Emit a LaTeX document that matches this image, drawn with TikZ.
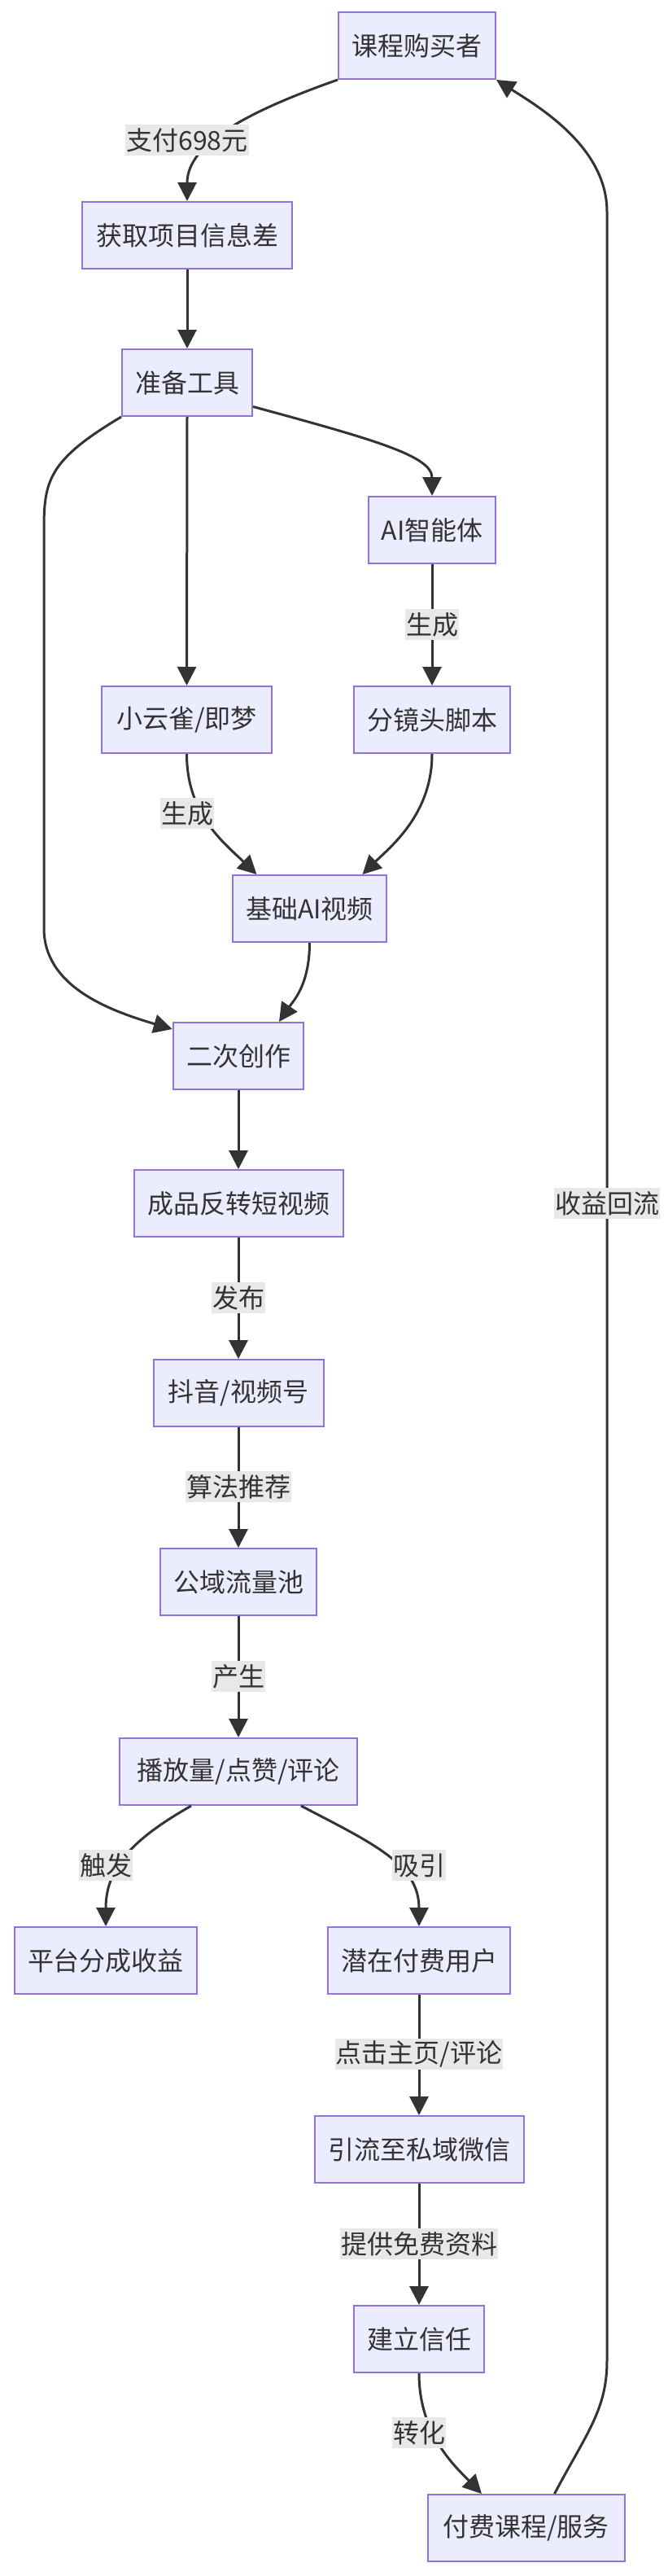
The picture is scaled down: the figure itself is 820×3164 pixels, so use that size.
\documentclass[tikz,border=0pt]{standalone}
\usepackage{fontspec}
\newfontfamily\cjk{Noto Sans CJK SC}
\usetikzlibrary{arrows.meta}
\definecolor{nodefill}{HTML}{ECECFF}
\definecolor{nodeline}{HTML}{9370DB}
\definecolor{edgecol}{HTML}{333333}
\definecolor{lblbg}{HTML}{E8E8E8}
\definecolor{txt}{HTML}{333333}
\tikzset{
  box/.style={draw=nodeline, fill=nodefill, line width=2pt, minimum height=82pt,
    inner sep=0pt, text=txt, font=\cjk\fontsize{32}{38}\selectfont},
  lbl/.style={fill=lblbg, inner xsep=1pt, inner ysep=0pt, minimum height=38pt,
    text=txt, font=\cjk\fontsize{32}{38}\selectfont},
  conn/.style={draw=edgecol, line width=3pt, -{Triangle[length=23pt,width=23pt]}}
}
\begin{document}
\begin{tikzpicture}[x=1pt,y=-1pt]
\fill[white] (0,0) rectangle (820,3164);
\useasboundingbox (0,0) rectangle (820,3164);

% nodes
\node[box, minimum width=193pt]   (A) at (512.5,56)   {课程购买者};
\node[box, minimum width=258pt]   (B) at (230,289)    {获取项目信息差};
\node[box, minimum width=160pt]   (C) at (230,470)    {准备工具};
\node[box, minimum width=156pt]   (D) at (531,651)    {AI智能体};
\node[box, minimum width=209pt]   (E) at (229.5,884)  {小云雀/即梦};
\node[box, minimum width=192pt]   (F) at (531,884)    {分镜头脚本};
\node[box, minimum width=189pt]   (G) at (380.5,1116) {基础AI视频};
\node[box, minimum width=160.5pt] (H) at (293,1297)   {二次创作};
\node[box, minimum width=257pt]   (I) at (293,1478)   {成品反转短视频};
\node[box, minimum width=209pt]   (J) at (293,1711)   {抖音/视频号};
\node[box, minimum width=192.5pt] (K) at (293,1943)   {公域流量池};
\node[box, minimum width=291.5pt] (L) at (293,2176)   {播放量/点赞/评论};
\node[box, minimum width=224.5pt] (M) at (130,2408)   {平台分成收益};
\node[box, minimum width=224.5pt] (N) at (515,2408)   {潜在付费用户};
\node[box, minimum width=257pt]   (O) at (515,2640)   {引流至私域微信};
\node[box, minimum width=160pt]   (P) at (515,2873)   {建立信任};
\node[box, minimum width=242pt]   (Q) at (646.5,3105) {付费课程/服务};

% connectors
\draw[conn] (A.south west) .. controls (310,135) and (230,175) .. (B.north);
\draw[conn] (B.south) -- (C.north);
\draw[conn] (C.-20) .. controls (460,540) and (531,560) .. (D.north);
\draw[conn] (C.south) -- (E.north);
\draw[conn] (C.south west) .. controls (60,565) and (54,590) .. (54,650)
   -- (54,1140) .. controls (54,1210) and (130,1240) .. ([yshift=-9pt]H.north west);
\draw[conn] (D.south) -- (F.north);
\draw[conn] (E.south) .. controls (229.5,1000) and (275,1035) .. ([xshift=-65pt]G.north);
\draw[conn] (F.south) .. controls (531,1000) and (480,1040) .. ([xshift=65pt]G.north);
\draw[conn] (G.south) .. controls (380.5,1210) and (360,1230) .. ([xshift=50pt]H.north);
\draw[conn] (H.south) -- (I.north);
\draw[conn] (I.south) -- (J.north);
\draw[conn] (J.south) -- (K.north);
\draw[conn] (K.south) -- (L.north);
\draw[conn] ([xshift=-58pt]L.south) .. controls (170,2255) and (130,2290) .. (M.north);
\draw[conn] ([xshift=77pt]L.south) .. controls (460,2265) and (515,2290) .. (N.north);
\draw[conn] (N.south) -- (O.north);
\draw[conn] (O.south) -- (P.north);
\draw[conn] (P.south) .. controls (515,2990) and (560,3030) .. ([xshift=-54.5pt]Q.north);
\draw[conn] ([xshift=35pt]Q.north) .. controls (720,2990) and (746,2960) .. (746,2900)
   -- (746,260) .. controls (746,180) and (660,130) .. (A.south east);

% edge labels
\node[lbl] (l1)  at (230,172)  {支付698元};
\node[lbl] (l2)  at (531,767)  {生成};
\node[lbl] (l3)  at (230,999)  {生成};
\node[lbl] (l4)  at (293,1594) {发布};
\node[lbl] (l5)  at (293,1826) {算法推荐};
\node[lbl] (l6)  at (293,2059) {产生};
\node[lbl] (l7)  at (130,2291) {触发};
\node[lbl] (l8)  at (515,2291) {吸引};
\node[lbl] (l9)  at (515,2523) {点击主页/评论};
\node[lbl] (l10) at (515,2756) {提供免费资料};
\node[lbl] (l11) at (515,2988) {转化};
\node[lbl] (l12) at (746,1478) {收益回流};
\end{tikzpicture}
\end{document}
